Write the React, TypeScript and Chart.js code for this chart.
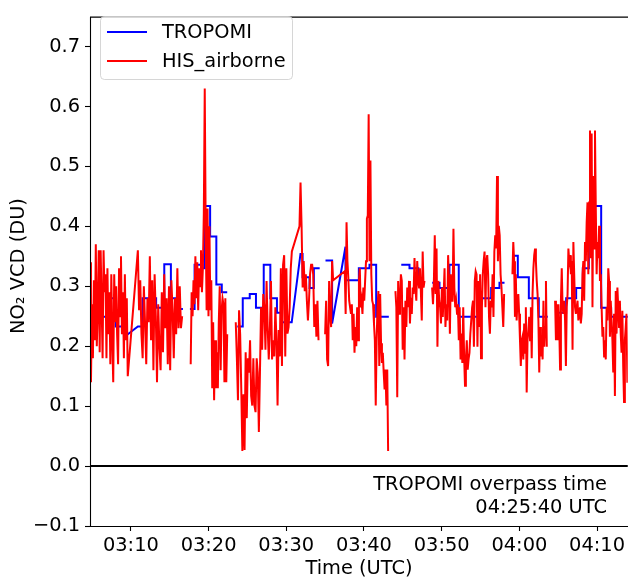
import React, { useEffect, useRef } from "react";
import { Chart, registerables } from "chart.js";

Chart.register(...registerables);

const FONT = '"DejaVu Sans", "Liberation Sans", sans-serif';
const FS = 19.4;

// axis ranges (minutes after 03:00 UTC)
const xMin = 4.74;
const xMax = 73.95;
const yMin = -0.1;
const yMax = 0.75;

const xTickValues = [10, 20, 30, 40, 50, 60, 70];
const xTickLabels = ["03:10", "03:20", "03:30", "03:40", "03:50", "04:00", "04:10"];
const yTickValues = [-0.1, 0, 0.1, 0.2, 0.3, 0.4, 0.5, 0.6, 0.7];
const yTickLabels = ["\u22120.1", "0.0", "0.1", "0.2", "0.3", "0.4", "0.5", "0.6", "0.7"];

const seriesLabels = ["TROPOMI", "HIS_airborne"];
const seriesColors = ["#0000ff", "#ff0000"];

const annotationLines = ["TROPOMI overpass time", "04:25:40 UTC"];

// TROPOMI step series (time in minutes after 03:00, NO2 VCD in DU; null = gap)
const tropomiTime = [
  4.5, 7.45, 7.45, 8.05, 8.05, 9.2, 9.4, 10.9, 11.5, 11.5, 13.25, 13.25, 14.3, 14.3, 15.15, 15.15, 15.7, 15.7, 16.7,
  16.9, 17.6, 18.2, 18.2, 19.2, 19.2, 19.5, 19.5, 20.2, 20.2, 21.0, 21.0, 21.7, 21.7, 22.4,
  23.0, 23.7, 24.4, 24.4, 25.3, 25.3, 26.1, 26.1, 27.1, 27.1, 27.95, 27.95, 28.8, 28.8, 29.35, 29.35, 30.7, 31.83, 32.1, 32.1, 33.0, 33.0, 33.55, 33.55, 34.3,
  34.6, 35.05, 35.9, 35.9, 37.62, 37.62, 39.34, 39.34, 40.71, 40.71, 41.57, 41.57, 43.2,
  44.0, 44.8, 45.86, 45.86, 47.0, 47.0, 47.8,
  48.3, 48.78, 49.72, 49.72, 51.0, 51.0, 52.2, 52.2, 55.08, 55.08, 56.37, 56.37, 57.44, 57.44, 58.09,
  58.6, 59.16, 59.8, 59.8, 61.22, 61.22, 62.5, 62.5, 63.66,
  64.2, 64.73, 66.02, 66.02, 67.31, 67.31, 68.17, 68.17, 68.94, 68.94, 70.53, 70.53, 71.81, 71.81, 74.5,
];
const tropomiVCD = [
  0.249, 0.249, 0.28, 0.28, 0.233, 0.233, 0.218, 0.233, 0.233, 0.28, 0.28, 0.264, 0.264, 0.337, 0.337, 0.28, 0.28, 0.262, 0.262,
  null, 0.262, 0.262, 0.336, 0.336, 0.33, 0.33, 0.434, 0.434, 0.383, 0.383, 0.303, 0.303, 0.29, 0.29,
  null, 0.233, 0.233, 0.28, 0.28, 0.287, 0.287, 0.264, 0.264, 0.336, 0.336, 0.28, 0.28, 0.256, 0.256, 0.24, 0.24, 0.354, 0.354, 0.315, 0.315, 0.297, 0.297, 0.33, 0.33,
  null, 0.343, 0.343, 0.238, 0.366, 0.31, 0.31, 0.33, 0.33, 0.336, 0.336, 0.249, 0.249,
  null, 0.336, 0.336, 0.33, 0.33, 0.306, 0.306,
  null, 0.306, 0.306, 0.297, 0.297, 0.336, 0.336, 0.249, 0.249, 0.28, 0.28, 0.297, 0.297, 0.306, 0.306,
  null, 0.351, 0.351, 0.315, 0.315, 0.28, 0.28, 0.249, 0.249,
  null, 0.256, 0.256, 0.28, 0.28, 0.297, 0.297, 0.33, 0.33, 0.434, 0.434, 0.264, 0.264, 0.249, 0.249,
];

// HIS airborne retrievals, in flight segments (start min, end min, gap after?)
const hisS1 = [0.34, 0.14, 0.27, 0.18, 0.31, 0.21, 0.37, 0.2, 0.26, 0.36, 0.19, 0.36, 0.27, 0.18, 0.36, 0.29, 0.32, 0.18, 0.33, 0.22, 0.29, 0.17, 0.32, 0.21, 0.14, 0.32, 0.24, 0.3, 0.22, 0.17, 0.33, 0.25, 0.35, 0.22, 0.29, 0.18, 0.32, 0.21, 0.28, 0.15];
const hisS2 = [0.36, 0.26, 0.31, 0.22, 0.18, 0.3, 0.24, 0.17, 0.28, 0.24, 0.35, 0.21, 0.31, 0.16, 0.32, 0.25, 0.14, 0.27, 0.2, 0.16, 0.29, 0.19, 0.32, 0.23, 0.28, 0.17, 0.3, 0.16, 0.31, 0.26, 0.18, 0.28, 0.22, 0.33, 0.23, 0.3, 0.23, 0.25];
const hisS3 = [0.17, 0.29, 0.25, 0.31, 0.27, 0.35, 0.28, 0.34, 0.26, 0.33, 0.3, 0.36, 0.29, 0.33, 0.42, 0.63, 0.4, 0.26, 0.43, 0.25, 0.4, 0.26, 0.31, 0.13, 0.24, 0.11, 0.21, 0.13, 0.19, 0.13, 0.24, 0.3, 0.16, 0.26, 0.28, 0.27, 0.14, 0.28, 0.14, 0.22];
const hisS4 = [0.24, 0.18, 0.11, 0.26, 0.22, 0.13, 0.025, 0.12, 0.027, 0.19, 0.08, 0.18, 0.156, 0.21, 0.117, 0.101, 0.18, 0.101, 0.09, 0.18, 0.156, 0.057, 0.156, 0.265, 0.194, 0.287, 0.265, 0.194, 0.309, 0.232, 0.178, 0.227, 0.309, 0.178, 0.21, 0.183, 0.265, 0.21, 0.101, 0.227, 0.183, 0.33, 0.167, 0.336, 0.352, 0.183, 0.33, 0.221, 0.232, 0.265, 0.33, 0.358];
const hisS5 = [0.4, 0.473, 0.4, 0.298, 0.342, 0.292, 0.32, 0.276, 0.243, 0.276, 0.32, 0.336, 0.336, 0.32, 0.232, 0.27, 0.216, 0.276, 0.21];
const hisS6 = [0.22, 0.276, 0.178, 0.167, 0.309, 0.254, 0.232, 0.342, 0.31];
const hisS7 = [0.325, 0.254, 0.407, 0.342, 0.314, 0.276, 0.265, 0.254, 0.27, 0.21, 0.254, 0.189, 0.232, 0.2, 0.265, 0.21, 0.309, 0.33, 0.265, 0.276, 0.254, 0.298, 0.276, 0.309, 0.342, 0.413, 0.418, 0.587, 0.342, 0.51, 0.32, 0.276, 0.27, 0.238, 0.21, 0.101, 0.21, 0.265, 0.292, 0.167, 0.287, 0.205, 0.172, 0.189, 0.156, 0.128, 0.161, 0.101, 0.161, 0.025];
const hisS8 = [0.292, 0.265, 0.115, 0.309, 0.254, 0.276, 0.32, 0.309, 0.194, 0.265, 0.178, 0.276, 0.232, 0.298, 0.265, 0.309, 0.238, 0.281, 0.254, 0.298, 0.287, 0.347, 0.298, 0.276, 0.342, 0.309, 0.298, 0.33, 0.292, 0.243, 0.358, 0.298, 0.309];
const hisS9 = [0.298, 0.27, 0.309, 0.385, 0.287, 0.363, 0.199, 0.309, 0.276, 0.265, 0.238, 0.298, 0.249, 0.287, 0.33, 0.232, 0.27, 0.243, 0.352, 0.309, 0.221, 0.32, 0.276, 0.276, 0.396, 0.298, 0.265, 0.276, 0.254, 0.27, 0.21, 0.265, 0.178, 0.221, 0.172, 0.265, 0.183, 0.134, 0.178, 0.21, 0.161, 0.178, 0.189, 0.221, 0.243, 0.265, 0.276, 0.199, 0.309, 0.325, 0.32, 0.199, 0.309, 0.232, 0.32, 0.18, 0.265, 0.32, 0.342, 0.358, 0.265, 0.342, 0.352, 0.32, 0.249, 0.221, 0.276, 0.265, 0.32, 0.249, 0.358, 0.385, 0.363, 0.484, 0.342, 0.401, 0.385, 0.32, 0.298, 0.265, 0.232, 0.287];
const hisS10 = [0.32, 0.374, 0.342, 0.249, 0.32, 0.243, 0.276, 0.287, 0.254, 0.21, 0.167, 0.21, 0.216, 0.178, 0.238, 0.189, 0.265, 0.123, 0.21, 0.227, 0.249, 0.21, 0.265, 0.18, 0.287, 0.33, 0.352, 0.363, 0.342, 0.309, 0.287, 0.243, 0.156, 0.232, 0.183, 0.21, 0.178, 0.276, 0.199, 0.232, 0.309, 0.199];
const hisS11 = [0.276, 0.21, 0.27, 0.21, 0.27, 0.232, 0.161, 0.276, 0.33, 0.265, 0.254, 0.276, 0.243, 0.167, 0.265, 0.287, 0.363, 0.342, 0.352, 0.32, 0.342, 0.194, 0.374, 0.32, 0.265, 0.254, 0.265, 0.276, 0.243, 0.254, 0.265, 0.238, 0.254, 0.32, 0.342, 0.276, 0.374, 0.342, 0.407, 0.44, 0.32, 0.44, 0.56, 0.347, 0.555, 0.265, 0.484, 0.363, 0.56, 0.429, 0.32, 0.374, 0.347, 0.401, 0.309, 0.32, 0.265, 0.216, 0.232, 0.183, 0.21, 0.178, 0.265, 0.243, 0.33, 0.309, 0.216, 0.276, 0.243, 0.21, 0.156, 0.254, 0.117, 0.292, 0.221, 0.298, 0.265, 0.232, 0.276, 0.221, 0.189, 0.259, 0.167, 0.107, 0.21, 0.232, 0.254, 0.139];

const hisSegments = [hisS1, hisS2, hisS3, hisS4, hisS5, hisS6, hisS7, hisS8, hisS9, hisS10, hisS11];
const hisSegStart = [4.74, 10.9, 17.7, 23.5, 31.7, 35.0, 37.53, 44.05, 48.77, 59.11, 64.6];
const hisSegEnd = [9.6, 16.6, 22.4, 30.72, 34.15, 36.03, 43.11, 47.79, 58.04, 63.53, 73.9];
const hisGapAfter = [false, true, true, false, true, false, true, true, true, true, false];

function buildHis() {
  const pts: { x: number; y: number | null }[] = [];
  hisSegments.forEach((vals, s) => {
    const t0 = hisSegStart[s];
    const t1 = hisSegEnd[s];
    const n = vals.length;
    vals.forEach((v, i) => {
      pts.push({ x: t0 + (i * (t1 - t0)) / (n - 1), y: v });
    });
    if (hisGapAfter[s]) pts.push({ x: t1 + 0.05, y: null });
  });
  return pts;
}

function buildTropomi() {
  return tropomiTime.map((t, i) => ({ x: t, y: tropomiVCD[i] }));
}

const decorPlugin = {
  id: "decor",
  afterDatasetsDraw(chart: any) {
    const { ctx, chartArea, scales } = chart;
    const { left, top, right, bottom } = chartArea;
    ctx.save();
    // zero line
    const y0 = Math.round(scales.y.getPixelForValue(0));
    ctx.strokeStyle = "#000";
    ctx.lineWidth = 2;
    ctx.beginPath();
    ctx.moveTo(left, y0);
    ctx.lineTo(right, y0);
    ctx.stroke();

    // frame (left, top, bottom)
    ctx.lineWidth = 1.1;
    ctx.strokeStyle = "#000";
    ctx.beginPath();
    ctx.moveTo(right + 2, top + 0.5);
    ctx.lineTo(left + 0.5, top + 0.5);
    ctx.lineTo(left + 0.5, bottom + 0.5);
    ctx.lineTo(right + 2, bottom + 0.5);
    ctx.stroke();

    // legend
    const lx = 100.5, ly = 16.5, lw = 192, lh = 63;
    ctx.beginPath();
    ctx.roundRect(lx, ly, lw, lh, 4);
    ctx.fillStyle = "rgba(255,255,255,0.8)";
    ctx.fill();
    ctx.strokeStyle = "rgba(204,204,204,0.8)";
    ctx.lineWidth = 1;
    ctx.stroke();
    ctx.font = `${FS}px ${FONT}`;
    ctx.textBaseline = "middle";
    ctx.textAlign = "left";
    const rows = [32, 61];
    seriesLabels.forEach((lab, i) => {
      ctx.strokeStyle = seriesColors[i];
      ctx.lineWidth = 2;
      ctx.beginPath();
      ctx.moveTo(107, rows[i]);
      ctx.lineTo(147, rows[i]);
      ctx.stroke();
      ctx.fillStyle = "#000";
      ctx.fillText(lab, 162, rows[i] + 1);
    });

    // annotation
    ctx.textAlign = "right";
    ctx.fillStyle = "#000";
    ctx.fillText(annotationLines[0], 607, 485);
    ctx.fillText(annotationLines[1], 607, 508);

    // axis titles
    ctx.textAlign = "center";
    ctx.fillText("Time (UTC)", 359, 569);
    ctx.translate(19, 266);
    ctx.rotate(-Math.PI / 2);
    ctx.fillText("NO\u2082 VCD (DU)", 0, 0);
    ctx.restore();
  },
};

export default function App() {
  const ref = useRef<HTMLCanvasElement | null>(null);
  useEffect(() => {
    if (!ref.current) return;
    const chart = new Chart(ref.current, {
      type: "line",
      data: {
        datasets: [
          {
            label: seriesLabels[0],
            data: buildTropomi(),
            borderColor: seriesColors[0],
            backgroundColor: seriesColors[0],
            borderWidth: 2,
            pointRadius: 0,
            tension: 0,
            spanGaps: false,
            order: 2,
          },
          {
            label: seriesLabels[1],
            data: buildHis(),
            borderColor: seriesColors[1],
            backgroundColor: seriesColors[1],
            borderWidth: 2,
            pointRadius: 0,
            tension: 0,
            spanGaps: false,
            order: 1,
          },
        ],
      },
      options: {
        animation: false,
        responsive: false,
        devicePixelRatio: 1,
        layout: { padding: { top: 6, left: 0, right: 0, bottom: 0 } },
        plugins: {
          legend: { display: false },
          tooltip: { enabled: false },
          title: { display: false },
        },
        scales: {
          x: {
            type: "linear",
            min: xMin,
            max: xMax,
            afterBuildTicks: (s: any) => {
              s.ticks = xTickValues.map((v) => ({ value: v }));
            },
            afterFit: (s: any) => {
              s.height = 58;
            },
            ticks: {
              autoSkip: false,
              maxRotation: 0,
              padding: 3,
              color: "#000",
              font: { family: FONT, size: FS },
              callback: (v: any) => {
                const i = xTickValues.indexOf(Number(v));
                return i >= 0 ? xTickLabels[i] : "";
              },
            },
            grid: {
              display: true,
              drawOnChartArea: false,
              drawTicks: true,
              tickLength: 5,
              tickColor: "#000",
              tickWidth: 1.1,
            },
            border: { display: false },
          },
          y: {
            type: "linear",
            min: yMin,
            max: yMax,
            afterBuildTicks: (s: any) => {
              s.ticks = yTickValues.map((v) => ({ value: v }));
            },
            afterFit: (s: any) => {
              s.width = 90;
            },
            ticks: {
              autoSkip: false,
              padding: 5,
              color: "#000",
              font: { family: FONT, size: FS },
              callback: (v: any) => {
                const i = yTickValues.findIndex((t) => Math.abs(t - Number(v)) < 1e-9);
                return i >= 0 ? yTickLabels[i] : "";
              },
            },
            grid: {
              display: true,
              drawOnChartArea: false,
              drawTicks: true,
              tickLength: 5,
              tickColor: "#000",
              tickWidth: 1.1,
            },
            border: { display: false },
          },
        },
      } as any,
      plugins: [decorPlugin],
    });
    return () => chart.destroy();
  }, []);
  return (
    <div style={{ position: "absolute", left: 0, top: 0, width: 628, height: 584, background: "#fff" }}>
      <canvas ref={ref} width={628} height={584} style={{ width: 628, height: 584, display: "block" }} />
    </div>
  );
}
